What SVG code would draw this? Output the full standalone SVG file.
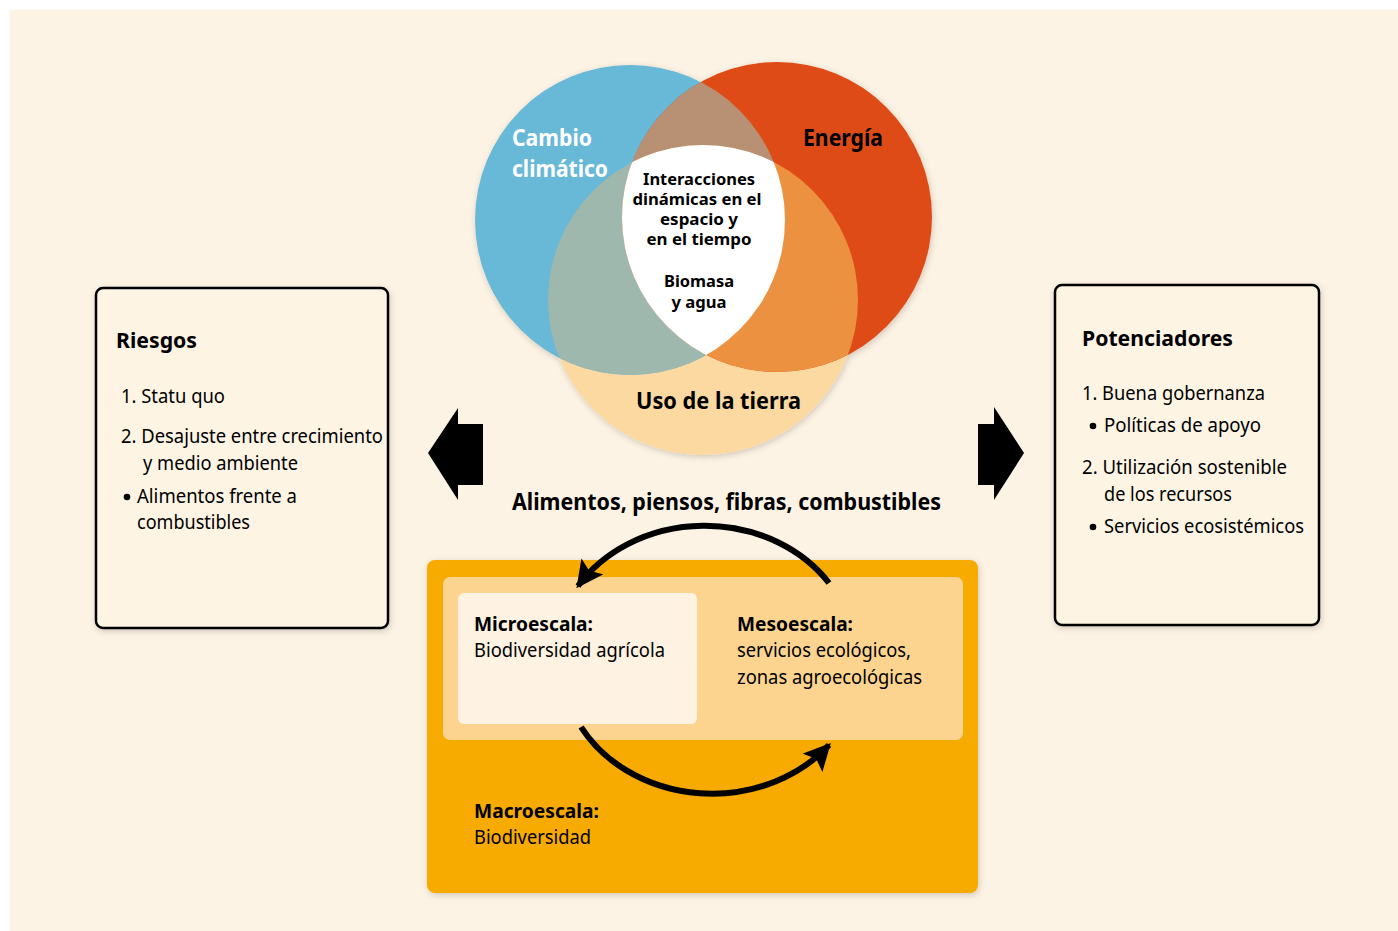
<svg xmlns="http://www.w3.org/2000/svg" width="1398" height="931" viewBox="0 0 1398 931">
<style>
  text { font-family: "Noto Sans", "Liberation Sans", sans-serif; fill: #000; }
  .b { font-weight: 700; }
  .t1 { font-size: 24px; }
  .t2 { font-size: 20px; }
  .t3 { font-size: 19px; }
  .c { font-size: 16px; font-weight: 700; text-anchor: middle; }
  .box { fill: #FDF4E4; stroke: #000; stroke-width: 2.5; }
  .arc { fill: none; stroke: #000; stroke-width: 6; }
</style>
<defs>
  <filter id="sh" x="-10%" y="-10%" width="120%" height="120%">
    <feDropShadow dx="1" dy="2" stdDeviation="3" flood-color="#000" flood-opacity="0.18"/>
  </filter>
  <clipPath id="cBlue"><circle cx="630" cy="220" r="155"/></clipPath>
  <clipPath id="cRed"><circle cx="777" cy="217" r="155"/></clipPath>
  <marker id="ah" viewBox="0 0 10 10" refX="9" refY="5" markerWidth="4.5" markerHeight="4.5" orient="auto" markerUnits="strokeWidth">
    <path d="M0,0 L10,5 L0,10 L2,5 Z" fill="#000"/>
  </marker>
</defs>

<rect x="0" y="0" width="1398" height="931" fill="#FFFFFF"/>
<rect x="9.5" y="9.5" width="1389" height="922" fill="#FDF3E4"/>

<g id="venn">
  <g filter="url(#sh)">
    <circle cx="703" cy="300" r="155" fill="#FBD9A1"/>
    <circle cx="630" cy="220" r="155" fill="#67B8D8"/>
    <circle cx="777" cy="217" r="155" fill="#DE4B19"/>
  </g>
  <g clip-path="url(#cBlue)"><circle cx="777" cy="217" r="155" fill="#B89175"/></g>
  <g clip-path="url(#cBlue)"><circle cx="703" cy="300" r="155" fill="#9EB8AE"/></g>
  <g clip-path="url(#cRed)"><circle cx="703" cy="300" r="155" fill="#EB9140"/></g>
  <g clip-path="url(#cBlue)"><g clip-path="url(#cRed)"><circle cx="703" cy="300" r="155" fill="#FFFFFF"/></g></g>
  <text class="b t1" x="512" y="146" style="fill:#fff" textLength="80" lengthAdjust="spacingAndGlyphs">Cambio</text>
  <text class="b t1" x="512" y="177" style="fill:#fff" textLength="96" lengthAdjust="spacingAndGlyphs">climático</text>
  <text class="b t1" x="803" y="146" textLength="80" lengthAdjust="spacingAndGlyphs">Energía</text>
  <text class="c" x="699" y="185" textLength="112" lengthAdjust="spacingAndGlyphs">Interacciones</text>
  <text class="c" x="697" y="205" textLength="129" lengthAdjust="spacingAndGlyphs">dinámicas en el</text>
  <text class="c" x="699" y="225" textLength="78" lengthAdjust="spacingAndGlyphs">espacio y</text>
  <text class="c" x="699" y="245" textLength="105" lengthAdjust="spacingAndGlyphs">en el tiempo</text>
  <text class="c" x="699" y="287" textLength="70" lengthAdjust="spacingAndGlyphs">Biomasa</text>
  <text class="c" x="699" y="308" textLength="55" lengthAdjust="spacingAndGlyphs">y agua</text>
  <text class="b t1" x="636" y="409" textLength="165" lengthAdjust="spacingAndGlyphs">Uso de la tierra</text>
</g>

<g id="riesgos">
  <rect class="box" x="96" y="288" width="292" height="340" rx="7" filter="url(#sh)"/>
  <text class="b" x="116" y="348" font-size="21" textLength="81" lengthAdjust="spacingAndGlyphs">Riesgos</text>
  <text class="t3" x="121" y="403" textLength="104" lengthAdjust="spacingAndGlyphs">1. Statu quo</text>
  <text class="t3" x="121" y="443" textLength="262" lengthAdjust="spacingAndGlyphs">2. Desajuste entre crecimiento</text>
  <text class="t3" x="143" y="470" textLength="155" lengthAdjust="spacingAndGlyphs">y medio ambiente</text>
  <circle cx="127" cy="497" r="3.3" fill="#000"/>
  <text class="t3" x="137" y="503" textLength="160" lengthAdjust="spacingAndGlyphs">Alimentos frente a</text>
  <text class="t3" x="137" y="529" textLength="113" lengthAdjust="spacingAndGlyphs">combustibles</text>
</g>

<g id="potenciadores">
  <rect class="box" x="1055" y="285" width="264" height="340" rx="7" filter="url(#sh)"/>
  <text class="b" x="1082" y="346" font-size="21" textLength="151" lengthAdjust="spacingAndGlyphs">Potenciadores</text>
  <text class="t3" x="1082" y="400" textLength="183" lengthAdjust="spacingAndGlyphs">1. Buena gobernanza</text>
  <circle cx="1093" cy="426" r="3.3" fill="#000"/>
  <text class="t3" x="1104" y="432" textLength="157" lengthAdjust="spacingAndGlyphs">Políticas de apoyo</text>
  <text class="t3" x="1082" y="474" textLength="205" lengthAdjust="spacingAndGlyphs">2. Utilización sostenible</text>
  <text class="t3" x="1104" y="501" textLength="128" lengthAdjust="spacingAndGlyphs">de los recursos</text>
  <circle cx="1093" cy="527" r="3.3" fill="#000"/>
  <text class="t3" x="1104" y="533" textLength="200" lengthAdjust="spacingAndGlyphs">Servicios ecosistémicos</text>
</g>

<g id="escalas">
  <rect x="427" y="560" width="551" height="333" rx="8" fill="#F7AA00" filter="url(#sh)"/>
  <rect x="443" y="577" width="520" height="163" rx="7" fill="#FCD48F"/>
  <rect x="458" y="593" width="239" height="131" rx="6" fill="#FEF3E2"/>
  <text class="b t2" x="474" y="631" textLength="119" lengthAdjust="spacingAndGlyphs">Microescala:</text>
  <text class="t2" x="474" y="657" textLength="191" lengthAdjust="spacingAndGlyphs">Biodiversidad agrícola</text>
  <text class="b t2" x="737" y="631" textLength="116" lengthAdjust="spacingAndGlyphs">Mesoescala:</text>
  <text class="t2" x="737" y="657" textLength="174" lengthAdjust="spacingAndGlyphs">servicios ecológicos,</text>
  <text class="t2" x="737" y="684" textLength="185" lengthAdjust="spacingAndGlyphs">zonas agroecológicas</text>
  <text class="b t2" x="474" y="818" textLength="125" lengthAdjust="spacingAndGlyphs">Macroescala:</text>
  <text class="t2" x="474" y="844" textLength="117" lengthAdjust="spacingAndGlyphs">Biodiversidad</text>
</g>

<g id="title">
  <text class="b" x="512" y="510" font-size="23" textLength="429" lengthAdjust="spacingAndGlyphs">Alimentos, piensos, fibras, combustibles</text>
</g>

<g id="connectors">
  <path class="arc" d="M 829 583 A 150 130 0 0 0 578 586" marker-end="url(#ah)"/>
  <path class="arc" d="M 581 727 A 150 130 0 0 0 829 745" marker-end="url(#ah)"/>
  <polygon points="428,453 458,408 458,424 483,424 483,485 458,485 458,500" fill="#000"/>
  <polygon points="978,424 994,424 994,407 1024,453 994,500 994,485 978,485" fill="#000"/>
</g>
</svg>
